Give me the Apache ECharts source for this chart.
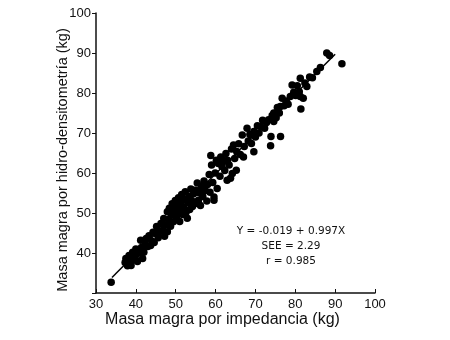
<!DOCTYPE html>
<html>
<head>
<meta charset="utf-8">
<script src="https://cdn.jsdelivr.net/npm/echarts@6/dist/echarts.min.js"></script>
<style>
  html, body { margin: 0; padding: 0; background: #fff; }
  #chart { width: 450px; height: 340px; }
</style>
</head>
<body>
<div id="chart"></div>
<script>
// Lean mass by bioelectrical impedance (x) vs. by hydrodensitometry (y), kg
const impedancia = [
  33.8, 37.3, 37.5, 37.9, 38.3, 38.5, 38.8, 39.2, 39.4, 39.9, 40.0, 40.4, 40.8, 41.2, 41.4, 41.7,
  42.0, 42.3, 42.6, 43.0, 43.3, 43.7, 44.0, 44.3, 44.6, 45.0, 45.2, 45.6, 46.0, 46.3, 46.7, 47.0,
  47.2, 47.5, 47.9, 47.9, 48.2, 48.4, 48.7, 48.9, 49.1, 49.4, 49.6, 49.9, 50.1, 50.4, 50.4, 50.7,
  51.0, 51.0, 51.2, 51.5, 51.7, 52.0, 52.1, 52.4, 52.6, 52.9, 53.0, 53.3, 53.5, 53.8, 54.0, 54.2,
  54.5, 54.7, 55.0, 55.1, 55.4, 55.7, 56.0, 56.2, 56.5, 56.8, 57.1, 57.4, 57.8, 58.0, 58.4, 58.6,
  58.8, 59.0, 59.3, 59.6, 59.6, 59.9, 60.2, 60.4, 60.7, 61.1, 61.3, 61.6, 62.0, 62.3, 62.6, 62.9,
  63.0, 63.4, 63.75, 64.0, 64.2, 64.5, 64.8, 65.2, 65.3, 65.8, 66.2, 66.7, 67.0, 67.2, 67.9, 68.2,
  68.6, 69.0, 69.6, 69.6, 70.0, 70.5, 70.9, 71.3, 71.8, 72.3, 72.8, 73.3, 73.8, 73.9, 74.2, 74.6,
  74.6, 75.2, 75.5, 76.0, 76.25, 76.3, 76.7, 77.2, 77.7, 78.2, 78.75, 79.2, 79.6, 80.1, 80.5, 81.0,
  81.25, 81.25, 81.4, 82.0, 82.4, 82.9, 83.6, 84.3, 85.4, 86.3, 87.9, 88.6, 91.7
];
const densitometria = [
  32.7, 37.6, 38.6, 36.8, 39.4, 37.9, 36.9, 40.2, 38.3, 39.3, 41.0, 37.9, 40.0, 43.2, 41.4, 38.6,
  40.2, 42.2, 43.6, 41.6, 44.3, 41.9, 43.0, 45.2, 42.6, 44.9, 46.6, 43.8, 45.4, 47.4, 45.7, 48.6,
  44.2, 47.0, 45.3, 50.3, 48.4, 51.2, 46.7, 49.5, 52.3, 47.8, 50.8, 53.1, 49.0, 51.6, 49.5, 53.8,
  47.9, 50.6, 52.5, 54.6, 49.6, 51.4, 53.4, 55.3, 50.2, 48.7, 52.6, 54.2, 50.9, 56.0, 53.1, 51.6,
  54.8, 55.7, 52.4, 55.6, 57.5, 53.2, 55.0, 51.9, 56.6, 54.1, 58.0, 55.6, 53.0, 57.1, 59.6, 55.2,
  64.4, 62.0, 57.6, 54.0, 53.2, 60.0, 63.2, 56.1, 62.4, 59.2, 64.0, 61.6, 63.1, 60.6, 64.9, 58.2,
  63.2, 62.0, 58.7, 66.0, 59.9, 67.0, 63.6, 60.7, 65.4, 67.3, 64.6, 69.5, 64.0, 66.6, 71.2, 68.0,
  69.6, 67.4, 70.4, 65.3, 69.0, 71.8, 70.0, 71.6, 73.2, 71.2, 72.6, 73.3, 66.8, 69.1, 74.4, 72.9,
  75.0, 73.8, 76.4, 75.0, 76.6, 69.1, 78.7, 76.8, 78.0, 77.2, 79.1, 82.0, 80.2, 79.4, 81.8, 80.3,
  79.1, 83.7, 76.0, 78.7, 82.5, 81.6, 84.0, 83.8, 85.4, 86.4, 90.0, 89.4, 87.3
];

// Fitted regression: Y = a + bX, drawn over the observed range
const regIntercept = [-0.019];
const regSlope = [0.997];
const regRange = [34, 90];

const axisTicks = [30, 40, 50, 60, 70, 80, 90, 100];
const statLines = ['Y = -0.019 + 0.997X', 'SEE = 2.29', 'r = 0.985'];

const points = impedancia.map((x, i) => [x, densitometria[i]]);
const fitLine = regRange.map(x => [x, regIntercept[0] + regSlope[0] * x]);

const chart = echarts.init(document.getElementById('chart'), null, { renderer: 'canvas' });

const sans = 'Liberation Sans, Arial, sans-serif';
const tickLabel = { color: '#111', fontSize: 13, fontFamily: sans };

chart.setOption({
  backgroundColor: '#fff',
  animation: false,
  grid: { left: 96, right: 75, top: 13, bottom: 47 },
  xAxis: {
    type: 'value',
    min: axisTicks[0],
    max: axisTicks[axisTicks.length - 1],
    interval: 10,
    name: 'Masa magra por impedancia (kg)',
    nameLocation: 'middle',
    nameGap: 19,
    nameMoveOverlap: false,
    nameTextStyle: { color: '#111', fontSize: 16, fontFamily: sans, padding: [0, 26, 0, 0] },
    axisLine: { onZero: false, lineStyle: { color: '#111', width: 1.5 } },
    axisTick: { inside: true, length: 4, lineStyle: { color: '#111' } },
    axisLabel: Object.assign({ margin: 5 }, tickLabel),
    splitLine: { show: false }
  },
  yAxis: {
    type: 'value',
    min: axisTicks[0],
    max: axisTicks[axisTicks.length - 1],
    interval: 10,
    name: 'Masa magra por hidro-densitometría (kg)',
    nameLocation: 'middle',
    nameGap: 26,
    nameMoveOverlap: false,
    nameTextStyle: { color: '#111', fontSize: 14.5, fontFamily: sans, padding: [0, 14, 0, 0] },
    axisLine: { onZero: false, lineStyle: { color: '#111', width: 1.5 } },
    axisTick: { inside: false, length: 4, lineStyle: { color: '#111' } },
    axisLabel: Object.assign({ margin: 5, formatter: v => (v === axisTicks[0] ? '' : String(v)) }, tickLabel),
    splitLine: { show: false }
  },
  series: [
    {
      type: 'scatter',
      data: points,
      symbol: 'circle',
      symbolSize: 7.5,
      itemStyle: { color: '#000', opacity: 1 },
      z: 3
    },
    {
      type: 'line',
      data: fitLine,
      symbol: 'none',
      lineStyle: { color: '#000', width: 1.5 },
      z: 2
    }
  ],
  graphic: statLines.map((t, i) => ({
    type: 'text',
    x: 291,
    y: 231 + i * 15,
    style: {
      text: t,
      fill: '#111',
      font: '10.5px "DejaVu Sans", sans-serif',
      textAlign: 'center',
      textVerticalAlign: 'middle'
    }
  }))
});
</script>
</body>
</html>
